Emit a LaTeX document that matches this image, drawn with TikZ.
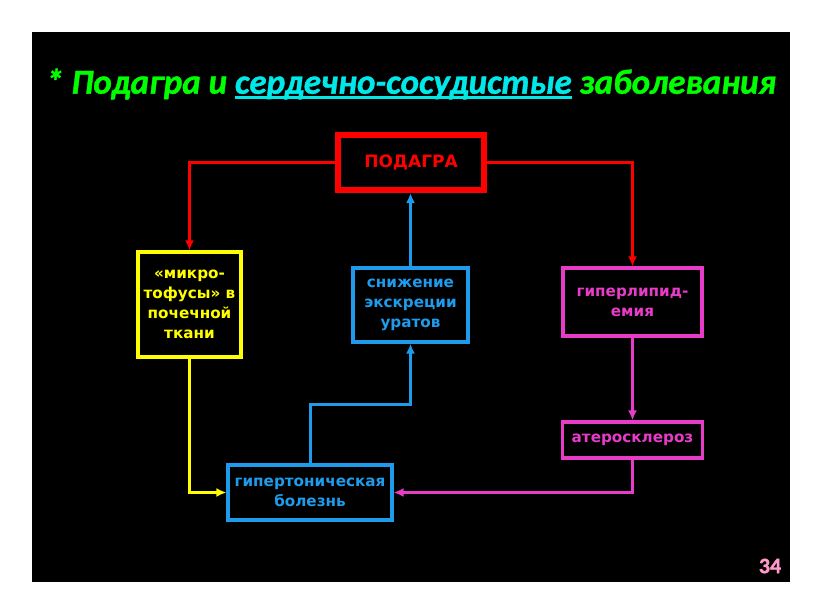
\documentclass[tikz,border=0pt]{standalone}
\usepackage{fontspec}
\setmainfont{DejaVu Sans}
\newfontfamily\titlefont[FakeBold=1.2]{Carlito}
\usetikzlibrary{arrows.meta}
\definecolor{slidered}{HTML}{FF0000}
\definecolor{slideyellow}{HTML}{FFFF00}
\definecolor{slideblue}{HTML}{1E9BEB}
\definecolor{slidepink}{HTML}{E83CC8}
\definecolor{slidegreen}{HTML}{00FF00}
\definecolor{slidecyan}{HTML}{00E8E8}
\definecolor{pagepink}{HTML}{FF99CC}
\newcommand{\thickunder}[1]{\setbox0\hbox{#1}\leavevmode\rlap{\rule[-5pt]{\wd0}{2.4pt}}\copy0}
\tikzset{
	box/.style = {
		draw,
		line width = 3.2pt,
		inner sep = 0pt,
		align = center,
		font = \bfseries\fontsize{15.2}{20}\selectfont
	},
	link/.style = {
		line width = 3pt,
		-{Latex[length=10pt,width=9pt]}
	}
}

\begin{document}
\begin{tikzpicture}[x=1pt,y=-1pt]
	\useasboundingbox[fill=white] (0,0) rectangle (816,613);
	\fill[black] (32,32) rectangle (790,582);

	\node (title) at (411,84) {\titlefont\bfseries\itshape\fontsize{35}{38}\selectfont
		\color{slidegreen}* Подагра и {\color{slidecyan}\thickunder{сердечно-сосудистые}} заболевания};

	\node[box, draw=slidered, text=slidered, line width=6pt, font=\bfseries\fontsize{17}{20}\selectfont,
		minimum width=146pt, minimum height=55pt] (podagra) at (411,162.5) {ПОДАГРА};
	\node[box, draw=slideyellow, text=slideyellow,
		minimum width=103pt, minimum height=105pt] (tofus) at (189.5,304.5) {«микро-\\тофусы» в\\почечной\\ткани};
	\node[box, draw=slideblue, text=slideblue,
		minimum width=115pt, minimum height=74pt] (urat) at (410.5,305) {снижение\\экскреции\\уратов};
	\node[box, draw=slidepink, text=slidepink,
		minimum width=139pt, minimum height=68pt] (lipid) at (632.5,302) {гиперлипид-\\емия};
	\node[box, draw=slidepink, text=slidepink,
		minimum width=140pt, minimum height=36pt] (ather) at (632.5,440) {атеросклероз};
	\node[box, draw=slideblue, text=slideblue,
		minimum width=164pt, minimum height=55pt] (hyper) at (310,492.5) {гипертоническая\\болезнь};

	\coordinate (knee) at (410.5,404);

	\draw[link, slidered] (podagra.west) -| (tofus.north);
	\draw[link, slidered] (podagra.east) -| (lipid.north);
	\draw[link, slideblue] (urat.north) -- (urat.north |- podagra.south);
	\draw[link, slidepink] (lipid.south) -- (ather.north);
	\draw[link, slideyellow] (tofus.south) |- (hyper.west);
	\draw[link, slidepink] (ather.south) |- (hyper.east);
	\draw[link, slideblue] (hyper.north) |- (knee) -- (urat.south);

	\node[text=pagepink, font=\titlefont\bfseries\fontsize{22}{24}\selectfont] (page) at (770,566) {34};
\end{tikzpicture}
\end{document}
